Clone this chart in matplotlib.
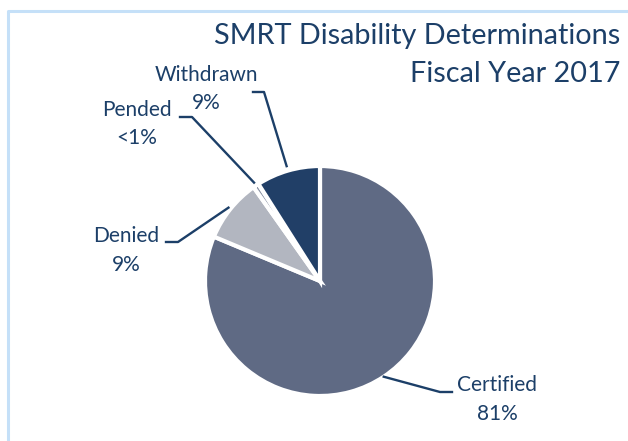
import numpy as np
import matplotlib
matplotlib.use("Agg")
import matplotlib.pyplot as plt

categories = ["Certified", "Denied", "Pended", "Withdrawn"]
values = [81.3, 8.9, 0.8, 9.0]
pct_labels = ["81%", "9%", "<1%", "9%"]
colors = ["#5f6a84", "#b2b6c0", "#8a92a4", "#213f67"]
title_lines = ["SMRT Disability Determinations", "Fiscal Year 2017"]

TXT = "#1c3f68"
W, H = 628, 441
fig = plt.figure(figsize=(W / 100, H / 100), dpi=100)
ax = fig.add_axes([0, 0, 1, 1])

def Y(py):
    return H - py

cx, cy, R = 320, 281, 115
wedges, _ = ax.pie(values, colors=colors, startangle=90, counterclock=False,
                   center=(cx, Y(cy)), radius=R, frame=True,
                   wedgeprops=dict(edgecolor="white", linewidth=3))
ax.set_xlim(0, W)
ax.set_ylim(0, H)
ax.set_aspect("equal")
ax.axis("off")

# frame
ax.plot([8, 8, W + 5], [Y(H + 5), Y(11), Y(11)], color="#c5e0f8", lw=2.2,
        solid_capstyle="butt")

# label layout: (text center x, name y, pct y, elbow outer x, elbow inner x, elbow y, start radius factor)
layout = {
    "Certified": (497, 385, 414, 452, 440, 392, 1.0),
    "Denied": (126, 236, 265, 166, 178, 242, 1.02),
    "Pended": (137, 110, 138, 180, 192, 117, 1.03),
    "Withdrawn": (206, 75, 103, 253, 264, 92, 1.04),
}
FS = 15
for w, name, pl in zip(wedges, categories, pct_labels):
    tx, ny, py, ex0, ex1, ey, rf = layout[name]
    mid = np.deg2rad((w.theta1 + w.theta2) / 2)
    sx = cx + rf * R * np.cos(mid)
    sy = Y(cy) + rf * R * np.sin(mid)
    ax.plot([ex0, ex1, sx], [Y(ey), Y(ey), sy], color=TXT, lw=1.7)
    ax.text(tx, Y(ny), name, ha="center", va="center", fontsize=FS,
            color=TXT, family="Lato")
    ax.text(tx, Y(py), pl, ha="center", va="center", fontsize=FS,
            color=TXT, family="Lato")

ax.text(620, Y(36), title_lines[0], ha="right", va="center", fontsize=20.8,
        color=TXT, family="Lato")
ax.text(620, Y(74), title_lines[1], ha="right", va="center", fontsize=20.8,
        color=TXT, family="Lato")

fig.savefig("out.png", dpi=100)
